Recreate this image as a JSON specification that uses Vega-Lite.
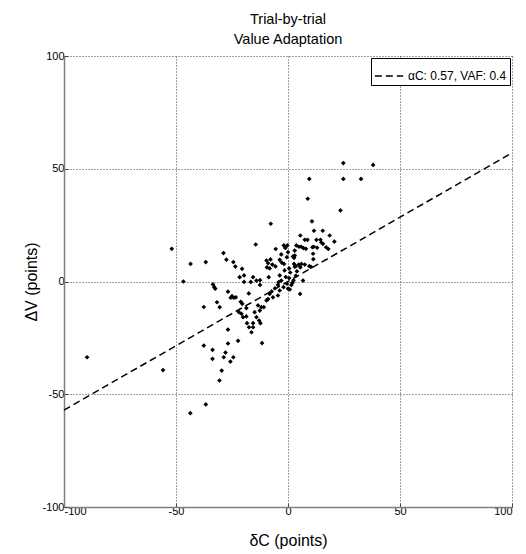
{
  "$schema": "https://vega.github.io/schema/vega-lite/v6.json",
  "width": 448,
  "height": 451,
  "autosize": {"type": "none"},
  "padding": {"left": 64, "top": 56, "right": 14, "bottom": 47},
  "background": "white",
  "config": {
    "view": {"stroke": null},
    "font": "Liberation Sans",
    "axis": {
      "labelFont": "Liberation Sans", "titleFont": "Liberation Sans",
      "labelColor": "black", "titleColor": "black", "titleFontWeight": "normal",
      "labelFontSize": 11, "titleFontSize": 16,
      "domainColor": "#7f7f7f", "domainWidth": 1.5,
      "tickColor": "#444", "tickSize": -4, "tickWidth": 1,
      "grid": true, "gridColor": "#444", "gridDash": [1, 2], "gridOpacity": 1, "gridWidth": 1
    }
  },
  "title": {
    "text": ["Trial-by-trial", "Value Adaptation"],
    "fontSize": 14.5, "font": "Liberation Sans", "fontWeight": "normal",
    "anchor": "middle", "color": "black", "offset": 3, "lineHeight": 20
  },
  "datasets": {
    "pts": [
      {"x": -89.7, "y": -33.6}, {"x": -55.8, "y": -39.3}, {"x": -43.6, "y": -58.4}, {"x": -36.7, "y": -54.5},
      {"x": -51.9, "y": 14.5}, {"x": -43.5, "y": 7.8}, {"x": -36.7, "y": 8.6}, {"x": -46.7, "y": 0},
      {"x": -37.6, "y": -11.3}, {"x": -37.6, "y": -28.4}, {"x": -33.7, "y": -30.3}, {"x": -33.7, "y": -34.3},
      {"x": -30.6, "y": -43.9}, {"x": -29.6, "y": -39.5}, {"x": -28.7, "y": -33.6}, {"x": -24.4, "y": -33.6},
      {"x": -25.7, "y": -35.5}, {"x": -27.9, "y": -31.5}, {"x": -26.8, "y": -27.5}, {"x": -22.3, "y": -26.3},
      {"x": -26.8, "y": -21.3}, {"x": -11.6, "y": -27.3}, {"x": -7.7, "y": 25.6}, {"x": -14.4, "y": 16.4},
      {"x": 24.7, "y": 52.5}, {"x": 38.0, "y": 51.7}, {"x": 9.5, "y": 45.5}, {"x": 24.7, "y": 45.5},
      {"x": 32.6, "y": 45.5}, {"x": 8.8, "y": 36.7}, {"x": 23.4, "y": 31.5}, {"x": 10.7, "y": 26.7},
      {"x": 11.6, "y": 22.5}, {"x": 15.5, "y": 22.5}, {"x": 18.6, "y": 20.4}, {"x": 5.5, "y": 20.4},
      {"x": 7.5, "y": 18.5}, {"x": 8.7, "y": 18.5}, {"x": 12.7, "y": 18.5}, {"x": 14.5, "y": 18.5},
      {"x": 20.7, "y": 17.7}, {"x": 14.9, "y": 17.3}, {"x": 15.6, "y": 16.7}, {"x": 11.5, "y": 15.4},
      {"x": 13.0, "y": 15.0}, {"x": 17.0, "y": 15.2}, {"x": 18.0, "y": 14.4}, {"x": 10.9, "y": 15.2},
      {"x": 11.2, "y": 12.3}, {"x": 11.3, "y": 9.9}, {"x": 10.2, "y": 6.5}, {"x": 9.5, "y": 6.8},
      {"x": 3.7, "y": 16.0}, {"x": 4.9, "y": 15.4}, {"x": 5.9, "y": 15.4}, {"x": 6.9, "y": 14.8},
      {"x": 8.0, "y": 14.5}, {"x": 3.0, "y": 13.7}, {"x": 3.0, "y": 11.5}, {"x": 2.2, "y": 11.1},
      {"x": 2.7, "y": 10.5}, {"x": -1.9, "y": 16.0}, {"x": -0.3, "y": 16.0}, {"x": -1.2, "y": 14.9},
      {"x": -5.5, "y": 14.4}, {"x": 0.0, "y": 13.0}, {"x": -3.0, "y": 12.0}, {"x": -0.5, "y": 10.8},
      {"x": -3.7, "y": 9.6}, {"x": -2.8, "y": 8.4}, {"x": -1.8, "y": 7.8}, {"x": 2.7, "y": 7.8},
      {"x": 3.5, "y": 6.8}, {"x": 4.8, "y": 7.5}, {"x": 6.0, "y": 7.8}, {"x": 7.5, "y": 7.5},
      {"x": 5.5, "y": 6.3}, {"x": -5.6, "y": 6.7}, {"x": -1.5, "y": 4.9}, {"x": -9.6, "y": 9.3},
      {"x": -8.9, "y": 8.1}, {"x": -7.8, "y": 9.8}, {"x": -7.0, "y": 7.5}, {"x": -9.4, "y": 6.3},
      {"x": -8.2, "y": 5.8}, {"x": -8.6, "y": 1.9}, {"x": -14.1, "y": 0.4}, {"x": -12.5, "y": 0.6},
      {"x": -12.5, "y": -1.5}, {"x": -15.6, "y": 1.9}, {"x": -16.6, "y": -0.2}, {"x": -19.6, "y": -0.2},
      {"x": -19.6, "y": 2.7}, {"x": -21.6, "y": 1.9}, {"x": -20.5, "y": 5.6}, {"x": -23.5, "y": 6.6},
      {"x": -24.4, "y": 8.6}, {"x": -27.5, "y": 9.7}, {"x": -28.8, "y": 12.6}, {"x": -33.5, "y": -1.3},
      {"x": -32.9, "y": -2.5}, {"x": -32.5, "y": -3.2}, {"x": -26.8, "y": -4.5}, {"x": -17.5, "y": -5.3},
      {"x": -25.0, "y": -6.5}, {"x": -24.2, "y": -7.2}, {"x": -25.6, "y": -7.2}, {"x": -23.3, "y": -7.0},
      {"x": -21.1, "y": -9.0}, {"x": -20.4, "y": -9.9}, {"x": -31.7, "y": -9.2}, {"x": -30.5, "y": -11.4},
      {"x": -18.6, "y": -11.8}, {"x": -21.9, "y": -13.6}, {"x": -20.8, "y": -14.3}, {"x": -20.1, "y": -15.8},
      {"x": -18.6, "y": -15.5}, {"x": -14.1, "y": -15.8}, {"x": -12.9, "y": -17.3}, {"x": -12.3, "y": -18.5},
      {"x": -14.9, "y": -13.6}, {"x": -12.6, "y": -12.9}, {"x": -11.9, "y": -11.4}, {"x": -10.8, "y": -11.4},
      {"x": -18.3, "y": -18.5}, {"x": -17.4, "y": -20.3}, {"x": -15.6, "y": -20.3}, {"x": -16.3, "y": -22.5},
      {"x": -15.6, "y": -18.5}, {"x": -9.6, "y": -8.4}, {"x": -8.9, "y": -7.8}, {"x": -8.2, "y": -5.5},
      {"x": -6.7, "y": -7.0}, {"x": -4.5, "y": -6.2}, {"x": -3.7, "y": -4.0}, {"x": -13.4, "y": -10.6},
      {"x": -3.7, "y": 2.7}, {"x": -3.0, "y": 0.4}, {"x": -4.2, "y": -0.3}, {"x": -1.0, "y": 2.0},
      {"x": 0.5, "y": 1.5}, {"x": -0.5, "y": -1.0}, {"x": 1.5, "y": -1.5}, {"x": 2.5, "y": 0.5},
      {"x": 1.0, "y": 4.0}, {"x": 3.5, "y": 2.5}, {"x": 4.0, "y": 4.5}, {"x": 3.0, "y": 6.5},
      {"x": 0.5, "y": 5.8}, {"x": -2.0, "y": -2.5}, {"x": 0.0, "y": -3.2}, {"x": 0.8, "y": -3.5},
      {"x": -5.8, "y": -3.0}, {"x": -7.3, "y": -4.4}, {"x": 5.4, "y": -5.5}, {"x": 6.7, "y": 0.4},
      {"x": -4.5, "y": -1.5}, {"x": 2.0, "y": -0.5}
    ],
    "fit": [
      {"x": -100, "y": -57, "s": "αC: 0.57, VAF: 0.4"},
      {"x": 100, "y": 57, "s": "αC: 0.57, VAF: 0.4"}
    ]
  },
  "layer": [
    {
      "data": {"name": "pts"},
      "mark": {"type": "point", "shape": "diamond", "filled": true, "size": 22, "color": "black", "opacity": 1},
      "encoding": {
        "x": {"field": "x", "type": "quantitative",
              "scale": {"domain": [-100, 100], "nice": false, "zero": false},
              "axis": {"values": [-100, -50, 0, 50, 100], "title": "δC (points)", "labelExpr": "'' + datum.value", "titlePadding": 16, "labelPadding": 2}},
        "y": {"field": "y", "type": "quantitative",
              "scale": {"domain": [-100, 100], "nice": false, "zero": false},
              "axis": {"values": [-100, -50, 0, 50, 100], "title": "ΔV (points)", "labelExpr": "'' + datum.value", "titleX": -25, "labelPadding": 4}}
      }
    },
    {
      "data": {"name": "fit"},
      "mark": {"type": "line", "color": "black", "strokeWidth": 1.5},
      "encoding": {
        "x": {"field": "x", "type": "quantitative"},
        "y": {"field": "y", "type": "quantitative"},
        "strokeDash": {"field": "s", "type": "nominal", "scale": {"range": [[7, 4]]},
          "legend": {"title": null, "orient": "top-right", "offset": 2, "strokeColor": "black", "fillColor": "white",
                     "padding": 3, "labelFontSize": 12, "labelFont": "Liberation Sans", "labelColor": "black",
                     "symbolType": "stroke", "symbolSize": 800, "symbolStrokeColor": "black", "symbolStrokeWidth": 1.5, "cornerRadius": 0}}
      }
    }
  ]
}
